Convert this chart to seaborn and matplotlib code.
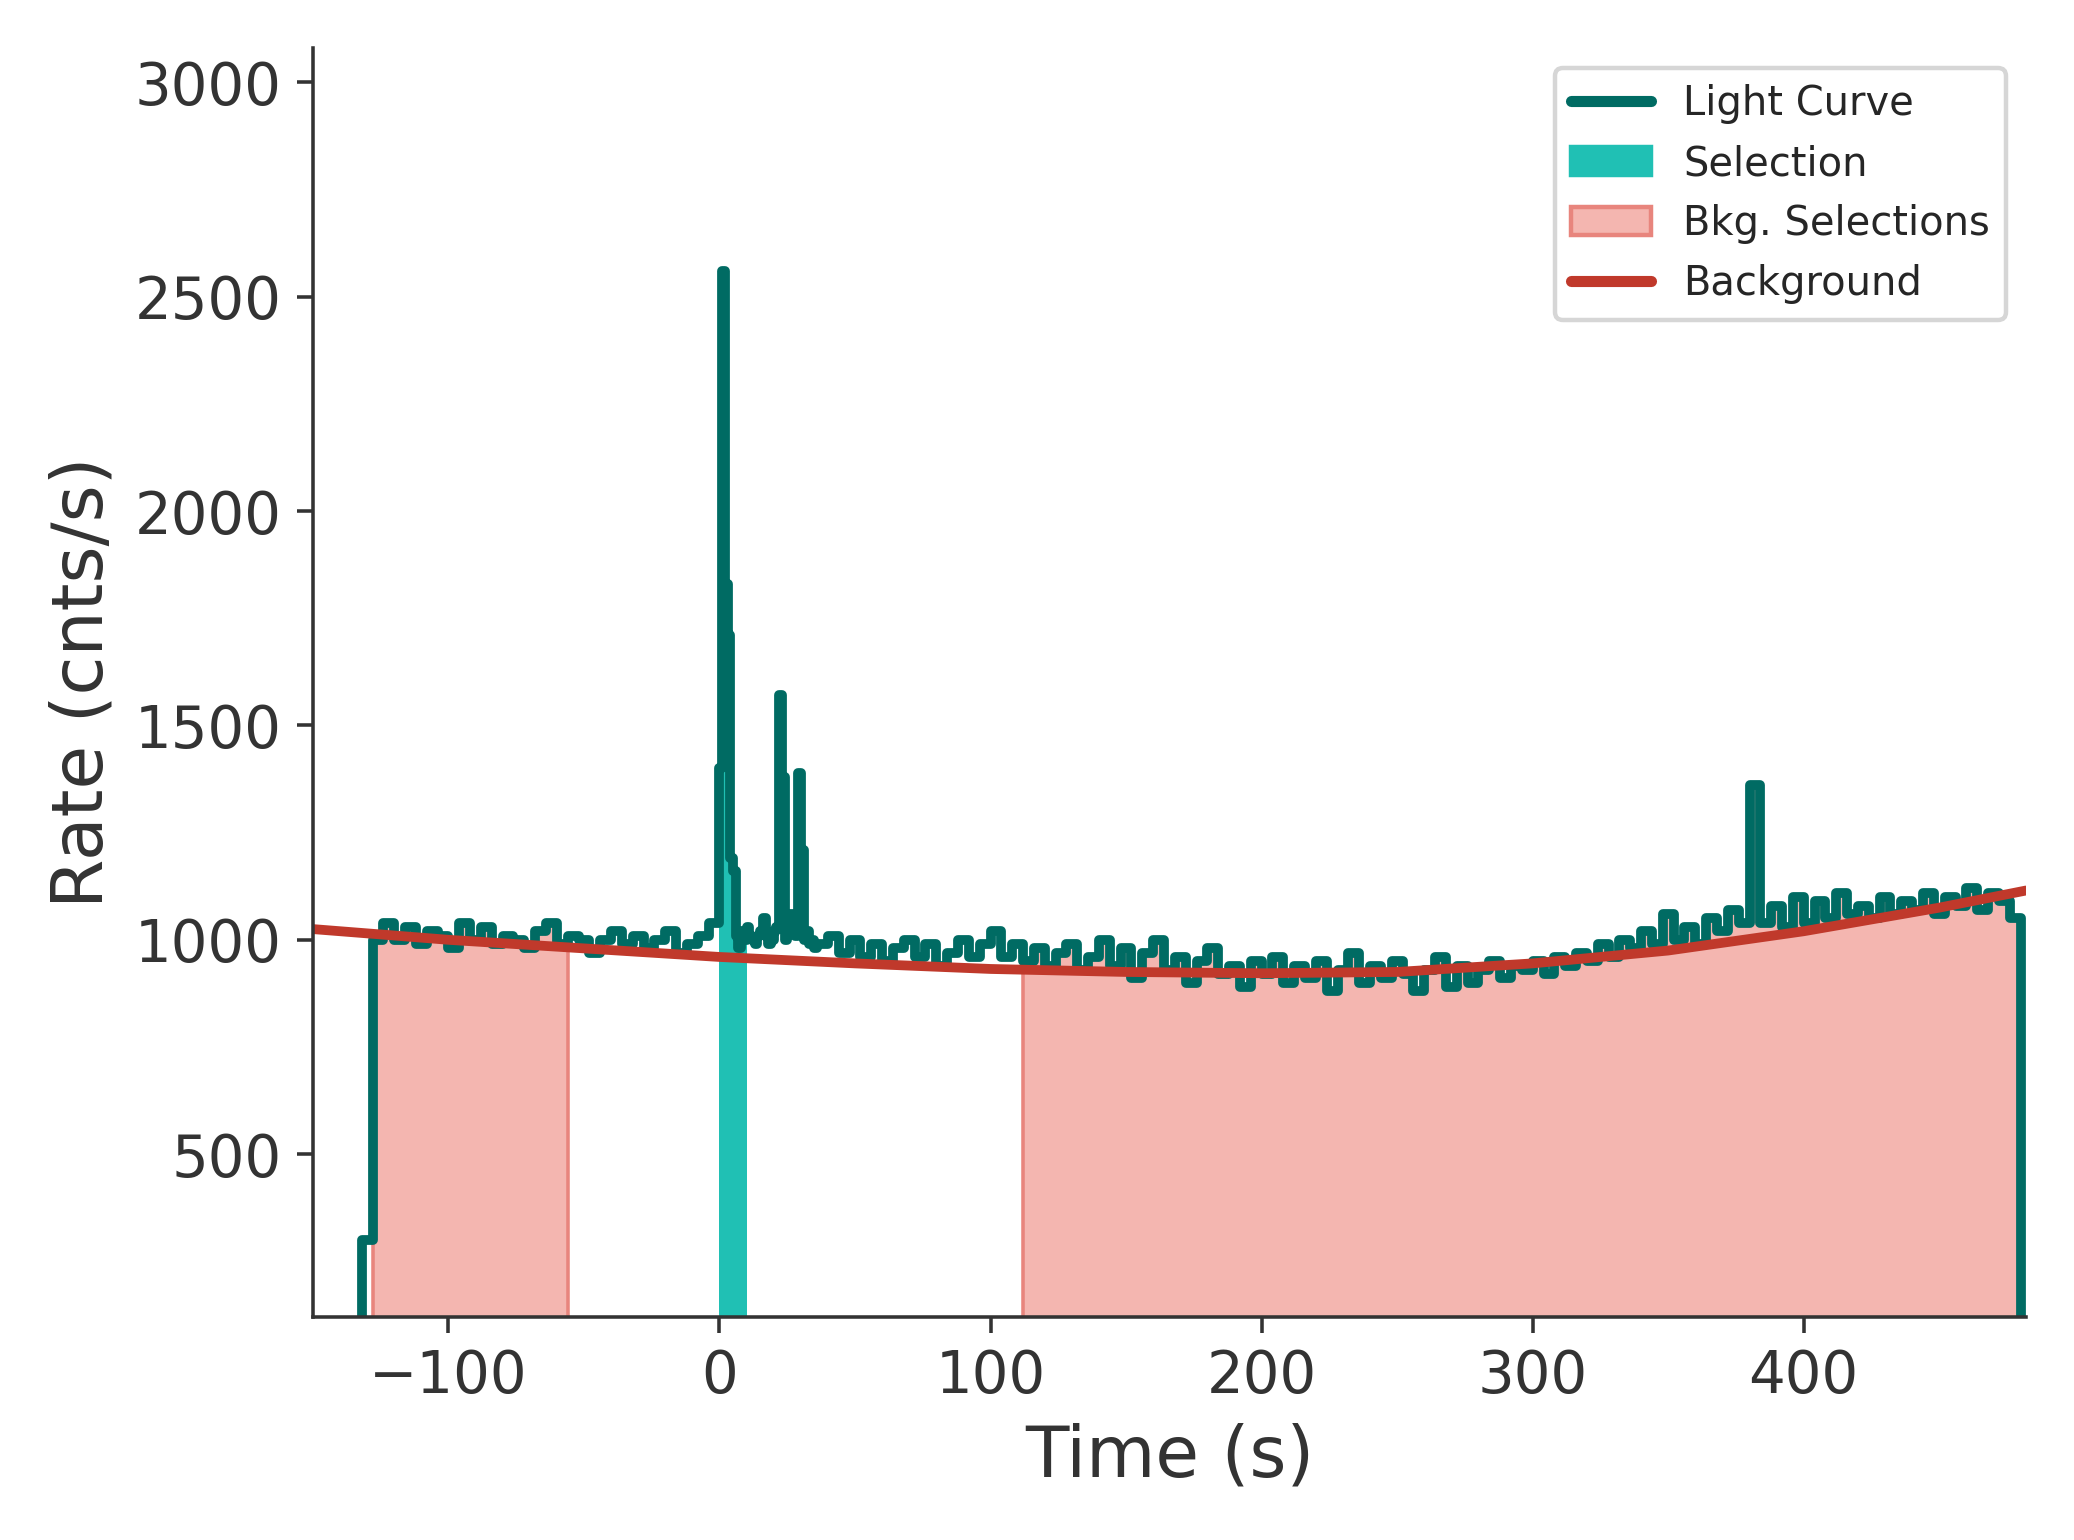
import numpy as np
import matplotlib.pyplot as plt
import matplotlib.patches as mpatches
from matplotlib.lines import Line2D
import seaborn as sns

# light curve: pre-burst 4 s bins, burst 1 s bins, post-burst 4 s bins
pre_start, pre_width = -136, 4
pre_rates = [0, 300, 1000, 1040, 1000, 1030, 990, 1020, 1010, 980, 1040, 1000, 1030, 990,
             1010, 1000, 980, 1020, 1040, 990, 1010, 1000, 970, 1000, 1020, 990, 1010,
             980, 1000, 1020, 970, 990, 1010, 1040]
burst_start, burst_width = 0, 1
burst_rates = [1400, 2560, 1830, 1710, 1190, 1160, 1010, 980, 1020, 1000, 1030, 1010,
               1000, 990, 1010, 1020, 1050, 1010, 990, 1000, 1020, 1030, 1570, 1380,
               1000, 1030, 1060, 1020, 1010, 1390, 1210, 1000, 1020, 990, 1000, 980]
post_start, post_width = 36, 4
post_rates = [990, 1010, 970, 1000, 960, 990, 950, 980, 1000, 960, 990, 940, 970, 1000, 960, 990,
              1020, 960, 990, 950, 980, 940, 970, 990, 930, 960, 1000, 940, 980, 910, 970, 1000,
              930, 960, 900, 950, 980, 920, 940, 890, 950,
              920, 960, 900, 940, 910, 950, 880, 930, 970, 900, 940, 910, 950, 920, 880, 930,
              960, 890, 940, 900, 930, 950, 910, 940, 930,
              950, 920, 960, 940, 970, 950, 990, 960, 1000, 980, 1020, 990, 1060, 1000, 1030,
              990, 1050, 1020, 1070, 1040,
              1360, 1040, 1080, 1030, 1100, 1040, 1090, 1050, 1110, 1060, 1080, 1050, 1100,
              1060, 1090, 1070, 1110, 1060, 1100, 1080, 1120, 1070, 1110, 1090, 1050]

bkg_t = [-150, -100, -50, 0, 50, 100, 150, 200, 250, 300, 350, 400, 450, 482]
bkg_rate = [1025, 1000, 980, 960, 945, 932, 925, 922, 925, 945, 975, 1020, 1075, 1115]

selection = (0, 10)
bkg_selections = [(-128, -55), (110, 480)]

t = np.concatenate([pre_start + pre_width * np.arange(len(pre_rates)),
                    burst_start + burst_width * np.arange(len(burst_rates)),
                    post_start + post_width * np.arange(len(post_rates)),
                    [480]])
r = np.array(pre_rates + burst_rates + post_rates + [0], dtype=float)

sns.set_style("ticks")
fig, ax = plt.subplots(figsize=(2074 / 320, 1540 / 320), dpi=320)
dark = "#333333"

for lo, hi in bkg_selections:
    m = (t >= lo) & (t <= hi)
    ax.fill_between(t[m], r[m], 0, step="post", color="#F4B6B0", edgecolor="#E8857D", lw=0.8)
m = (t >= selection[0]) & (t <= selection[1])
ax.fill_between(t[m], r[m], 0, step="post", color="#20C0B4", lw=0)

sns.lineplot(x=t, y=r, drawstyle="steps-post", estimator=None, color="#006B63", lw=2.2, ax=ax)
sns.lineplot(x=bkg_t, y=bkg_rate, estimator=None, color="#C0392B", lw=2.2, ax=ax)

ax.set_xlim(-150, 482)
ax.set_ylim(120, 3080)
ax.set_xlabel("Time (s)", fontsize=16, color=dark)
ax.set_ylabel("Rate (cnts/s)", fontsize=16, color=dark)
ax.tick_params(labelsize=13, colors=dark)
for s in ["left", "bottom"]:
    ax.spines[s].set_color(dark)
sns.despine(ax=ax)

handles = [Line2D([], [], color="#006B63", lw=2.5),
           mpatches.Patch(color="#20C0B4"),
           mpatches.Patch(facecolor="#F4B6B0", edgecolor="#E8857D"),
           Line2D([], [], color="#C0392B", lw=2.5)]
ax.legend(handles, ["Light Curve", "Selection", "Bkg. Selections", "Background"],
          fontsize=9, loc="upper right", frameon=True)

fig.tight_layout()
fig.savefig("out.png", dpi=320)
